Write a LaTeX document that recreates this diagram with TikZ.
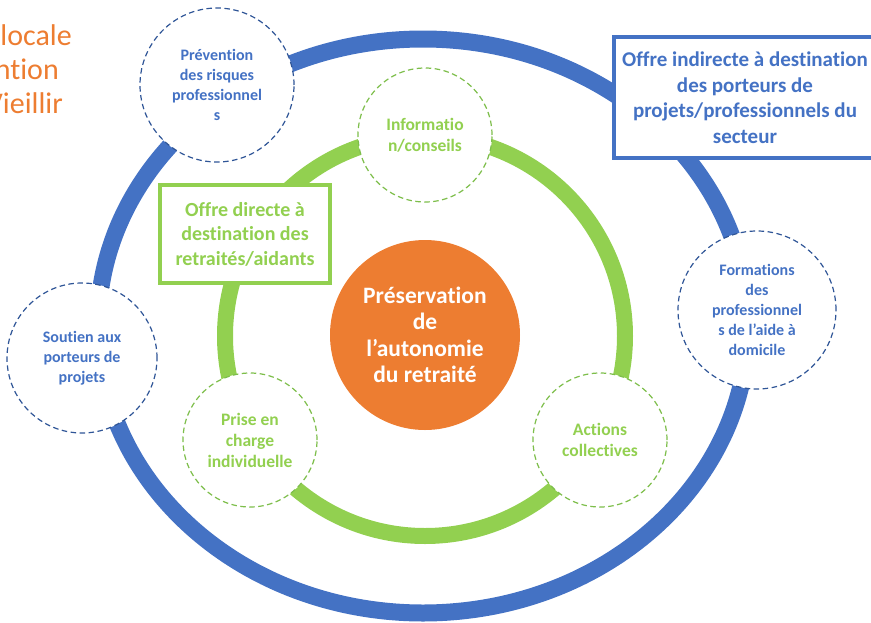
\documentclass[tikz,border=0pt]{standalone}
\usepackage{fontspec}
\setmainfont{Carlito}[Ligatures=NoCommon]
\usetikzlibrary{shapes.geometric}
\definecolor{ringblue}{HTML}{4472C4}
\definecolor{ringgreen}{HTML}{92D050}
\definecolor{coreorange}{HTML}{ED7D31}
\definecolor{bluedash}{HTML}{2F5597}
\definecolor{greendash}{HTML}{7DBE4A}
\tikzstyle{bluering} = [line width=17pt, draw=ringblue]
\tikzstyle{greenring} = [line width=16pt, draw=ringgreen]
\tikzstyle{outerbubble} = [circle, minimum size=154pt, inner sep=0pt,
  draw=bluedash, fill=white, line width=1.2pt,
  dash pattern=on 5.5pt off 3.5pt,
  text=ringblue, align=center,
  font=\bfseries\fontsize{16}{20}\selectfont]
\tikzstyle{innerbubble} = [circle, minimum size=134pt, inner sep=0pt,
  draw=greendash, fill=white, line width=1.2pt,
  dash pattern=on 5.5pt off 3.5pt,
  text=ringgreen, align=center,
  font=\bfseries\fontsize{17.5}{21}\selectfont]
\tikzstyle{core} = [circle, minimum size=190pt, inner sep=0pt,
  fill=coreorange, text=white, align=center,
  font=\bfseries\fontsize{23.5}{26.5}\selectfont]
\tikzstyle{bluebox} = [rectangle, minimum width=262pt, minimum height=121pt,
  draw=ringblue, fill=white, line width=4pt,
  text=ringblue, align=center,
  font=\bfseries\fontsize{21}{25.5}\selectfont]
\tikzstyle{greenbox} = [rectangle, minimum width=170pt, minimum height=98pt,
  draw=ringgreen, fill=white, line width=4pt,
  text=ringgreen, align=center,
  font=\bfseries\fontsize{20}{24.5}\selectfont]
\tikzstyle{sidetext} = [anchor=base east, inner sep=0pt,
  text=coreorange, font=\fontsize{30}{34}\selectfont]

\begin{document}
\begin{tikzpicture}[x=1pt, y=-1pt]
\useasboundingbox (0,0) rectangle (871,622);
\clip (0,0) rectangle (871,622);

%% ---- RINGS ----
\coordinate (outerc) at (423,326);
\coordinate (innerc) at (425,336);
\draw[bluering]  (outerc) ellipse [x radius=325, y radius=287];
\draw[greenring] (innerc) circle [radius=200];

%% ---- SIDE TITLE (cut by the page edge) ----
\node (side1) [sidetext] at (72,45.5)  {locale};
\node (side2) [sidetext] at (59,79.5)  {ntion};
\node (side3) [sidetext] at (63,113.5) {Vieillir};

%%=============================================================
%% OUTER RING : indirect offer
%%=============================================================
\node (prev) [outerbubble] at (217,85)
  {Prévention\\des risques\\professionnel\\s};
\node (sout) [outerbubble, minimum size=150pt] at (82,358)
  {Soutien aux\\porteurs de\\projets};
\node (form) [outerbubble, minimum size=158pt] at (757,310)
  {Formations\\des\\professionnel\\s de l’aide à\\domicile};

\node (indirect) [bluebox] at (745,97.5)
  {Offre indirecte à destination\\des porteurs de\\projets/professionnels du\\secteur};

%%=============================================================
%% INNER RING : direct offer
%%=============================================================
\node (info)    [innerbubble] at (425,135) {Informatio\\n/conseils};
\node (prise)   [innerbubble] at (250,440) {Prise en\\charge\\individuelle};
\node (actions) [innerbubble] at (600,440) {Actions\\collectives};

\node (direct) [greenbox] at (245,234)
  {Offre directe à\\destination des\\retraités/aidants};

%% ---- CORE ----
\node (coreaim) [core] at (425,335)
  {Préservation\\de\\l’autonomie\\du retraité};

\end{tikzpicture}
\end{document}
